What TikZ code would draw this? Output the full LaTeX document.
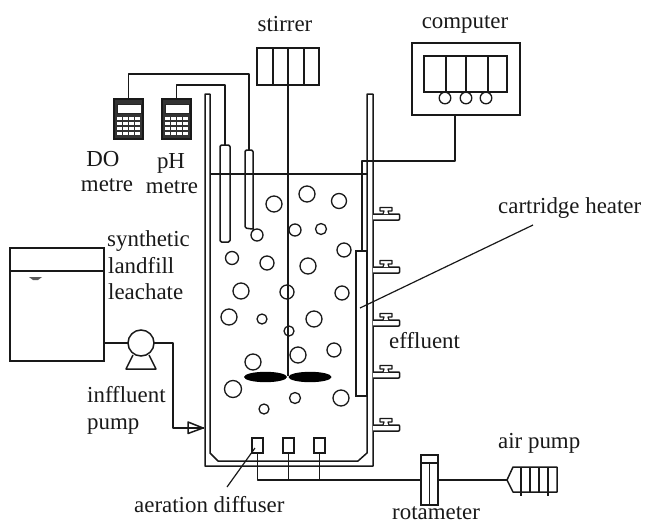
\documentclass[tikz,border=0pt]{standalone}
\usepackage{fontspec}
\setmainfont[Ligatures=NoCommon]{Liberation Serif}
\tikzset{
  ln/.style={line width=1.5pt,black!90,line join=round},
  thin ln/.style={line width=1.2pt,black!90,line join=round},
  box/.style={draw=black!90,line width=1.5pt,fill=white,inner sep=0pt,outer sep=0pt,rectangle},
  bubble/.style={draw=black!90,line width=1.3pt},
  lab/.style={font=\fontsize{22.9}{27}\selectfont,text=black!90,inner sep=0pt,anchor=base},
  labl/.style={lab,anchor=base west},
  meterbox/.style={box,line width=1.6pt,fill=black!80,minimum width=29pt,minimum height=40pt}
}
\newcommand{\keypad}[1]{%
  \begin{scope}[shift={(#1)}]
    \fill[white] (-11.5,-15) rectangle (12.5,-6);
    \draw[black!85,line width=.8pt] (-11.5,-15) rectangle (12.5,-6);
    \foreach \cx in {-12,-6,0,6} \foreach \cy in {-3,2,7,12}
      \fill[white] (\cx+.8,\cy+.5) rectangle ++(4.4,3.2);
  \end{scope}}
\begin{document}
\begin{tikzpicture}[x=1pt,y=-1pt]
\useasboundingbox (0,0) rectangle (646,523);

% vessel
\draw[ln] (205,94) -- (205,466) -- (373,466) -- (373,94) -- (367,94) -- (367,453) -- (358,461) -- (218,461) -- (210,453) -- (210,94) -- cycle;
\draw[thin ln] (210,174) -- (367,174);

% stirrer
\node[box,minimum width=62pt,minimum height=37pt] (stir) at (288,66.5) {};
\draw[ln] (273,48) -- (273,85) (304,48) -- (304,85);
\coordinate (bladehub) at (288,376);
\draw[ln] (stir.north) -- (bladehub);
\node[lab] (tstir) at (285,31) {stirrer};

% bubbles
\foreach \bx/\by/\br in {274/204/8,307/194/8,339/201/7.5,257/235/6,295/230/6,321/229/5.5,344/250/7,
  232/258/6.5,267/263/7,308/266/8,241/291/8,287/292/7,342/293/7,229/317/8,262/319/5,314/319/8,
  289/331/5,334/350/7,298/355/8,253/362/8,233/389/8.5,295/398/5.5,341/398/8,264/409/5}
  \draw[bubble] (\bx,\by) circle (\br pt);
\fill[black] (265.5,377) ellipse (21.5pt and 5.2pt);
\fill[black] (310,377) ellipse (21.5pt and 5.2pt);

% meters and probes
\node[meterbox] (do) at (128.5,119) {};
\keypad{128.5,119}
\node[meterbox] (ph) at (176.5,119) {};
\keypad{176.5,119}
\coordinate (phtop) at (225,145);
\coordinate (dotop) at (249,150);
\draw[ln] (do.north) -- (128.5,74) -- (249,74) -- (dotop);
\draw[ln] (ph.north) -- (176.5,85) -- (225,85) -- (phtop);
\draw[ln,rounded corners=1.5pt] (220,242) -- (220,145) -- (230,145) -- (230,242) -- cycle;
\draw[ln,rounded corners=1.5pt] (253,231) -- (253,150) -- (245,150) -- (245,228) -- (252,229);
\node[lab] (tdo) at (103,166) {DO};
\node[lab] (tdom) at (107,191) {metre};
\node[lab] (tph) at (171,168) {pH};
\node[lab] (tphm) at (172,193) {metre};

% computer
\node[box,minimum width=108pt,minimum height=72pt] (comp) at (466,79) {};
\node[box,minimum width=83pt,minimum height=36pt] (screen) at (465.5,74) {};
\draw[ln] (446,56) -- (446,92) (466,56) -- (466,92) (488,56) -- (488,92);
\foreach \cx in {445,466,486} \draw[bubble,fill=white] (\cx,98) circle (5.8pt);
\node[lab] (tcomp) at (465,28) {computer};

% cartridge heater
\node[box,minimum width=11pt,minimum height=145pt] (heat) at (361.5,323.5) {};
\coordinate (heatwire) at (362,251);
\coordinate (compout) at (455,115);
\draw[ln] (compout) -- (455,161) -- (362,161) -- (heatwire);
\node[labl] (theat) at (498,213) {cartridge heater};
\coordinate (heatlead) at (360,308);
\coordinate (heatend) at (533,225);
\draw[thin ln] (heatend) -- (heatlead);

% effluent ports
\foreach \py in {214,267,320,372,425} {
  \draw[ln,fill=white,rounded corners=.8pt] (373,\py) -- (399.5,\py) -- (399.5,\py+6) -- (373,\py+6);
  \draw[thin ln,fill=white] (383,\py) -- (384,\py-3) -- (380,\py-3) -- (380,\py-6.5) -- (392,\py-6.5) -- (392,\py-3) -- (388,\py-3) -- (389,\py);
}
\node[labl] (teff) at (389,348) {effluent};

% feed tank and pump
\node[box,minimum width=94pt,minimum height=113pt] (tank) at (57,304.5) {};
\draw[line width=1.9pt,black!90] (10,271) -- (104,271);
\fill[black!65] (29,277) -- (42,277) -- (38,280) -- (33,280) -- cycle;
\draw[ln,fill=white] (133,355) -- (126,369) -- (156,369) -- (149,355);
\node[circle,draw=black!90,line width=1.5pt,fill=white,minimum size=26pt,inner sep=0pt,outer sep=0pt] (pump) at (141,343) {};
\coordinate (inlet) at (204,428);
\draw[ln] (tank.east |- pump.west) -- (pump.west);
\draw[ln] (pump.east) -- (173,343) -- (173,428) -- (inlet);
\draw[ln] (188,422) -- (203,428) -- (188,433.5) -- cycle;
\node[labl] (tsyn) at (107,246) {synthetic};
\node[labl] (tlan) at (108,273) {landfill};
\node[labl] (tlea) at (108,299) {leachate};
\node[labl] (tinf) at (87,402) {inffluent};
\node[labl] (tpum) at (87,429) {pump};

% diffusers
\node[box,minimum width=11pt,minimum height=15pt] (d1) at (257.5,445.5) {};
\node[box,minimum width=11pt,minimum height=15pt] (d2) at (288.5,445.5) {};
\node[box,minimum width=11pt,minimum height=15pt] (d3) at (319.5,445.5) {};
\node[labl] (taer) at (134,512) {aeration diffuser};
\coordinate (aerend) at (227,487);
\coordinate (aertip) at (255,448);
\draw[thin ln] (aerend) -- (aertip);

% rotameter
\node[box,minimum width=17pt,minimum height=50pt] (rot) at (429.5,480) {};
\draw[ln] (421,463) -- (438,463) (429.5,463) -- (429.5,505);
\node[labl] (trot) at (392,519) {rotameter};

% air pump
\coordinate (aptip) at (507,480);
\draw[ln] (aptip) -- (513,467) -- (557,467) -- (557,492) -- (513,492) -- cycle;
\draw[thin ln] (521,467) -- (521,496) (530,467) -- (530,492) (539,467) -- (539,492) (548,467) -- (548,496);
\node[labl] (tair) at (498,448) {air pump};

% air line
\draw[ln] (d1.south) -- (257.5,480) -- (rot.west);
\draw[ln] (d2.south) -- (288.5,480);
\draw[ln] (d3.south) -- (319.5,480);
\draw[ln] (rot.east) -- (aptip);
\end{tikzpicture}
\end{document}
